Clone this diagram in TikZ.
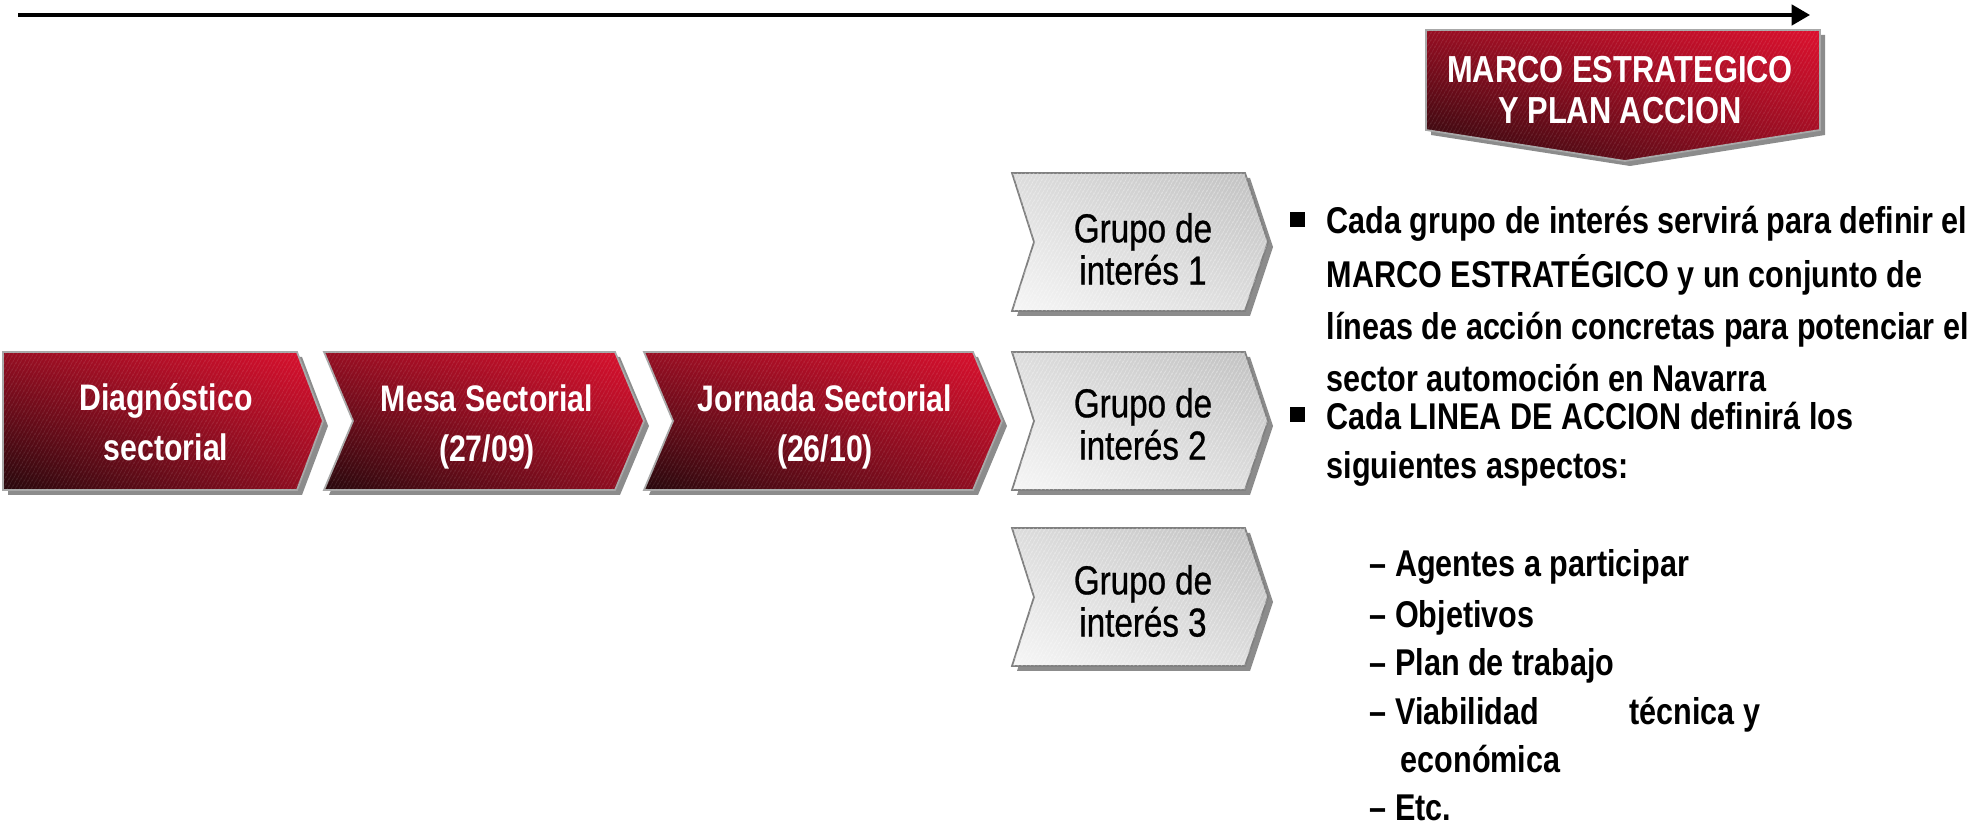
\documentclass[tikz,border=0pt]{standalone}
\usepackage{fontspec}
\setmainfont{Liberation Sans}[FakeStretch=0.82]
\newfontfamily\greyfont{Liberation Sans}[FakeStretch=0.82,FakeBold=0.7]
\usetikzlibrary{arrows.meta,shadings,patterns.meta}
\definecolor{reddark}{RGB}{38,8,12}
\definecolor{redmid}{RGB}{150,14,34}
\definecolor{redbright}{RGB}{220,16,46}
\definecolor{redrim}{RGB}{168,168,168}
\definecolor{greylight}{RGB}{246,246,246}
\definecolor{greymid}{RGB}{220,220,220}
\definecolor{greydark}{RGB}{192,192,192}
\definecolor{greyrim}{RGB}{128,128,128}
\definecolor{stepgrey}{RGB}{140,140,140}
\tikzset{
  stepshadow/.style={fill=stepgrey},
  redstep/.style={shading=bilinear interpolation,lower left=reddark,upper left=redmid,
    lower right=redmid,upper right=redbright,draw=redrim,line width=0.5pt},
  greystep/.style={shading=bilinear interpolation,lower left=greylight,upper left=greymid,
    lower right=greymid,upper right=greydark,draw=greyrim,line width=0.5pt},
  hatch/.style={pattern={Lines[angle=60,distance=0.9pt,line width=0.3pt]},pattern color=white,opacity=#1},
  redtext/.style={white,align=center,font=\bfseries\fontsize{10.5}{14.2}\selectfont},
  greytext/.style={black,align=center,font=\greyfont\fontsize{11.5}{12}\selectfont},
  bodytext/.style={anchor=west,text height=7.6pt,text depth=0pt,font=\bfseries\fontsize{10.6}{14.8}\selectfont},
  bullet/.style={fill=black,minimum size=0.15cm}
}
\begin{document}
\begin{tikzpicture}[x=0.01cm,y=-0.01cm,every node/.style={inner sep=0pt}]
  \useasboundingbox (0,0) rectangle (1975,825);
  % time line
  \coordinate (start) at (18,15);
  \coordinate (end) at (1810,15);
  \draw[line width=0.9pt,-{Triangle[length=5.2pt,width=5.8pt]}] (start) -- (end);
  % marco estrategico
  \fill[stepshadow] (1431,35) -- (1825,35) -- (1825,135) -- (1630,166) -- (1431,135) -- cycle;
  \shade[redstep] (1426,30) -- (1820,30) -- (1820,130) -- (1625,161) -- (1426,130) -- cycle;
  \fill[hatch=0.1] (1426,30) -- (1820,30) -- (1820,130) -- (1625,161) -- (1426,130) -- cycle;
  \node[redtext,font=\bfseries\fontsize{10.7}{11.7}\selectfont] (marco) at (1620,90) {MARCO ESTRATEGICO\\Y PLAN ACCION};
  % red steps
  \fill[stepshadow] (8,357) -- (302,357) -- (328,426) -- (302,495) -- (8,495) -- cycle;
  \shade[redstep] (3,352) -- (297,352) -- (323,421) -- (297,490) -- (3,490) -- cycle;
  \fill[hatch=0.1] (3,352) -- (297,352) -- (323,421) -- (297,490) -- (3,490) -- cycle;
  \foreach \l/\r in {324/615,644/973} {
    \fill[stepshadow] (\l+5,357) -- (\r+5,357) -- (\r+34,426) -- (\r+5,495) -- (\l+5,495) -- (\l+34,426) -- cycle;
    \shade[redstep] (\l,352) -- (\r,352) -- (\r+29,421) -- (\r,490) -- (\l,490) -- (\l+29,421) -- cycle;
    \fill[hatch=0.1] (\l,352) -- (\r,352) -- (\r+29,421) -- (\r,490) -- (\l,490) -- (\l+29,421) -- cycle;
  }
  \node[redtext] (diag) at (166,422) {Diagnóstico\\sectorial};
  \node[redtext] (mesa) at (487,427) {Mesa Sectorial\\(27/09)};
  \node[redtext] (jornada) at (825,427) {Jornada Sectorial\\(26/10)};
  % grey steps
  \foreach \t in {173,352,528} {
    \fill[stepshadow] (1017,\t+5) -- (1250,\t+5) -- (1273,\t+74) -- (1250,\t+143) -- (1017,\t+143) -- (1039,\t+74) -- cycle;
    \shade[greystep] (1012,\t) -- (1245,\t) -- (1268,\t+69) -- (1245,\t+138) -- (1012,\t+138) -- (1034,\t+69) -- cycle;
    \fill[hatch=0.35] (1012,\t) -- (1245,\t) -- (1268,\t+69) -- (1245,\t+138) -- (1012,\t+138) -- (1034,\t+69) -- cycle;
  }
  \node[greytext] (g1) at (1143,249) {Grupo de\\interés 1};
  \node[greytext] (g2) at (1143,424) {Grupo de\\interés 2};
  \node[greytext] (g3) at (1143,601) {Grupo de\\interés 3};
  % text
  \node[bullet] (b1) at (1297,220) {};
  \node[bodytext] (p1a) at (1326,220) {Cada grupo de interés servirá para definir el};
  \node[bodytext] (p1b) at (1326,274) {MARCO ESTRATÉGICO y un conjunto de};
  \node[bodytext] (p1c) at (1326,326) {líneas de acción concretas para potenciar el};
  \node[bodytext] (p1d) at (1326,378) {sector automoción en Navarra};
  \node[bullet] (b2) at (1297,415) {};
  \node[bodytext] (p2a) at (1326,416) {Cada LINEA DE ACCION definirá los};
  \node[bodytext] (p2b) at (1326,465) {siguientes aspectos:};
  \node[bodytext] (s1) at (1369,563) {– Agentes a participar};
  \node[bodytext] (s2) at (1369,614) {– Objetivos};
  \node[bodytext] (s3) at (1369,662) {– Plan de trabajo};
  \node[bodytext] (s4) at (1369,711) {\makebox[111pt][l]{– Viabilidad\hfill técnica y}};
  \node[bodytext] (s5) at (1400,759) {económica};
  \node[bodytext] (s6) at (1369,807) {– Etc.};
\end{tikzpicture}
\end{document}
